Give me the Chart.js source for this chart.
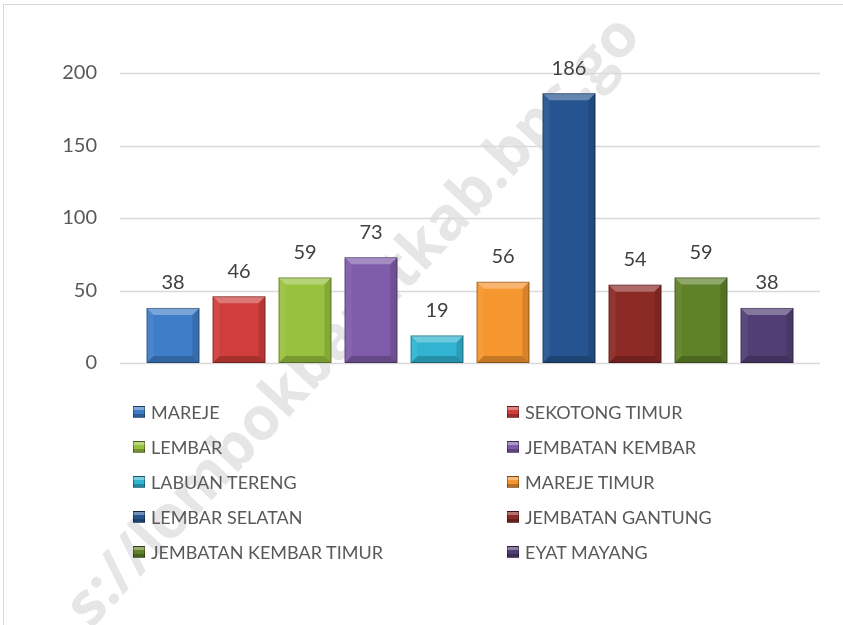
<!DOCTYPE html>
<html>
<head>
<meta charset="utf-8">
<script src="https://cdn.jsdelivr.net/npm/chart.js@4"></script>
<style>
	html, body { margin: 0; padding: 0; background: #fff; }
	#wrap { position: relative; width: 843px; height: 625px; overflow: hidden; font-family: Lato, "Open Sans", sans-serif; }
	#frame { position: absolute; left: 3px; top: 4px; width: 860px; height: 640px; border-left: 1px solid #d9d9d9; border-top: 1px solid #d9d9d9; }
	#mark { position: absolute; left: 350px; top: 318px; transform: translate(-50%, -50%) rotate(-47deg); font: bold 60px "Open Sans", sans-serif; color: #e6e6e6; white-space: nowrap; }
	#chart { position: absolute; left: 0; top: 0; }
	#legend { position: absolute; left: 0; top: 0; }
	.item { position: absolute; height: 20px; line-height: 20px; font-size: 18px; color: #595959; white-space: nowrap; }
	.item .sw { position: absolute; left: 0; top: 4px; width: 12px; height: 12px; box-sizing: border-box; border: 1px solid rgba(0,0,0,0.35); }
	.item .tx { position: absolute; left: 18px; top: 0; }
</style>
</head>
<body>
<div id="wrap">
	<div id="frame"></div>
	<div id="mark">s://lombokbaratkab.bps.go</div>
	<canvas id="chart" width="843" height="625"></canvas>
	<div id="legend"></div>
</div>
<script>
	// values
	var CATEGORIES = [
		"MAREJE",
		"SEKOTONG TIMUR",
		"LEMBAR",
		"JEMBATAN KEMBAR",
		"LABUAN TERENG",
		"MAREJE TIMUR",
		"LEMBAR SELATAN",
		"JEMBATAN GANTUNG",
		"JEMBATAN KEMBAR TIMUR",
		"EYAT MAYANG",
	]
	var VALUES = [38, 46, 59, 73, 19, 56, 186, 54, 59, 38]
	var COLORS = [
		"#3e7dc8",
		"#cf3e3b",
		"#98c13e",
		"#7f5ca9",
		"#30b4d2",
		"#f6962f",
		"#255490",
		"#8c2a25",
		"#5f8128",
		"#513e75",
	]
	var Y_TICKS = [0, 50, 100, 150, 200]

	var TEXT = "#595959"
	var GRID = "#d9d9d9"
	var FONT = 'Lato, "Open Sans", sans-serif'

	// Excel-like gridlines run a little past the category band on both sides.
	var gridPlugin = {
		id: "gridlines",
		beforeDatasetsDraw: function (chart) {
			var ctx = chart.ctx
			var y = chart.scales.y
			var a = chart.chartArea
			ctx.save()
			ctx.strokeStyle = GRID
			ctx.lineWidth = 1.5
			Y_TICKS.forEach(function (v) {
				var py = Math.round(y.getPixelForValue(v)) + 0.5
				ctx.beginPath()
				ctx.moveTo(a.left - 20, py)
				ctx.lineTo(a.right + 20, py)
				ctx.stroke()
			})
			ctx.restore()
		},
	}

	// bevel look + value labels
	var bevelPlugin = {
		id: "bevel",
		afterDatasetsDraw: function (chart) {
			var ctx = chart.ctx
			var meta = chart.getDatasetMeta(0)
			ctx.save()
			meta.data.forEach(function (bar, i) {
				var l = bar.x - bar.width / 2
				var r = bar.x + bar.width / 2
				var t = bar.y
				var b = bar.base
				var bv = Math.min(7, (b - t) / 2)
				function poly(pts, fill) {
					ctx.beginPath()
					ctx.moveTo(pts[0][0], pts[0][1])
					for (var k = 1; k < pts.length; k++) ctx.lineTo(pts[k][0], pts[k][1])
					ctx.closePath()
					ctx.fillStyle = fill
					ctx.fill()
				}
				poly([[l, t], [r, t], [r - bv, t + bv], [l + bv, t + bv]], "rgba(255,255,255,0.3)")
				poly([[l, t], [l + bv, t + bv], [l + bv, b - bv], [l, b]], "rgba(255,255,255,0.06)")
				poly([[r, t], [r - bv, t + bv], [r - bv, b - bv], [r, b]], "rgba(0,0,0,0.12)")
				poly([[l, b], [l + bv, b - bv], [r - bv, b - bv], [r, b]], "rgba(0,0,0,0.2)")
				ctx.strokeStyle = "rgba(0,0,0,0.3)"
				ctx.lineWidth = 1
				ctx.strokeRect(l + 0.5, t + 0.5, r - l - 1, b - t - 1)

				ctx.fillStyle = "#404040"
				ctx.font = "20px " + FONT
				ctx.textAlign = "center"
				ctx.textBaseline = "middle"
				ctx.fillText(String(VALUES[i]), bar.x, t - 25)
			})
			ctx.restore()
		},
	}

	new Chart(document.getElementById("chart"), {
		type: "bar",
		data: {
			labels: CATEGORIES,
			datasets: [
				{
					data: VALUES,
					backgroundColor: COLORS,
					borderWidth: 0,
					barPercentage: 0.8,
					categoryPercentage: 1,
				},
			],
		},
		options: {
			responsive: false,
			animation: false,
			devicePixelRatio: 1,
			layout: { padding: { top: 73, bottom: 262, left: 0, right: 43 } },
			plugins: {
				legend: { display: false },
				tooltip: { enabled: false },
			},
			scales: {
				x: { display: false },
				y: {
					min: 0,
					max: 200,
					afterFit: function (s) {
						s.width = 140
					},
					border: { display: false },
					grid: { display: false, drawTicks: false },
					ticks: {
						stepSize: 50,
						padding: 43,
						color: TEXT,
						font: { family: FONT, size: 20 },
					},
				},
			},
		},
		plugins: [gridPlugin, bevelPlugin],
	})

	// two-column legend, filled left to right like the original
	var legendEl = document.getElementById("legend")
	CATEGORIES.forEach(function (name, i) {
		var col = i % 2
		var row = Math.floor(i / 2)
		var item = document.createElement("div")
		item.className = "item"
		item.style.left = (col ? 507 : 133) + "px"
		item.style.top = 402 + row * 35 + "px"
		var sw = document.createElement("span")
		sw.className = "sw"
		sw.style.background =
			"linear-gradient(180deg, rgba(255,255,255,0.35) 0 30%, rgba(0,0,0,0) 30% 70%, rgba(0,0,0,0.25) 70%)," + COLORS[i]
		var tx = document.createElement("span")
		tx.className = "tx"
		tx.textContent = name
		item.appendChild(sw)
		item.appendChild(tx)
		legendEl.appendChild(item)
	})
</script>
</body>
</html>
